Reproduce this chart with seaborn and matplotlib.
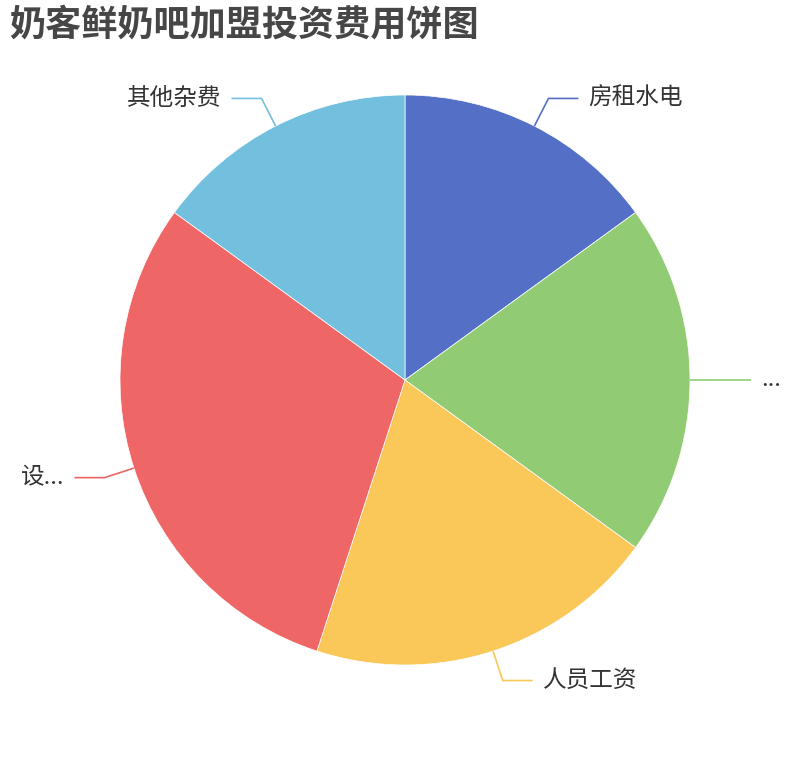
import numpy as np
import matplotlib
matplotlib.use("Agg")
import matplotlib.pyplot as plt
import seaborn as sns

# ---- data ----
categories = ["房租水电", "...", "人员工资", "设...", "其他杂费"]
values = [15, 20, 20, 30, 15]
colors = ["#5470c6", "#91cc75", "#fac858", "#ee6666", "#73c0de"]
title = "奶客鲜奶吧加盟投资费用饼图"

sns.set_theme(style="white")
plt.rcParams["font.family"] = ["Noto Sans CJK SC", "DejaVu Sans"]

W, H = 810, 760
fig = plt.figure(figsize=(W / 100, H / 100), dpi=100)
ax = fig.add_axes([0, 0, 1, 1])

cx, cy, R = 405, H - 380, 285
ax.pie(values, colors=colors, startangle=90, counterclock=False,
       center=(cx, cy), radius=R,
       wedgeprops=dict(edgecolor="white", linewidth=0.5))
ax.set_xlim(0, W)
ax.set_ylim(0, H)
ax.set_aspect("equal")
ax.axis("off")

# leader lines & labels
total = float(sum(values))
cum = np.cumsum([0] + values[:-1])
len1, len2, gap = 31, 30, 10
for cat, v, c0, col in zip(categories, values, cum, colors):
    mid = (c0 + v / 2.0) / total * 2 * np.pi  # clockwise from top
    dx, dy = np.sin(mid), np.cos(mid)
    x0, y0 = cx + R * dx, cy + R * dy
    x1, y1 = cx + (R + len1) * dx, cy + (R + len1) * dy
    side = 1 if dx >= -1e-9 else -1
    x2 = x1 + side * len2
    ax.plot([x0, x1, x2], [y0, y1, y1], color=col, lw=1.2,
            solid_joinstyle="miter", solid_capstyle="butt")
    ax.text(x2 + side * gap, y1, cat, ha="left" if side > 0 else "right",
            va="center", fontsize=17, color="#333333")

fig.text(9 / W, 1 - 25 / H, title, ha="left", va="center",
         fontsize=26, fontweight="heavy", color="#464646")

fig.savefig("out.png", dpi=100, facecolor="white")
